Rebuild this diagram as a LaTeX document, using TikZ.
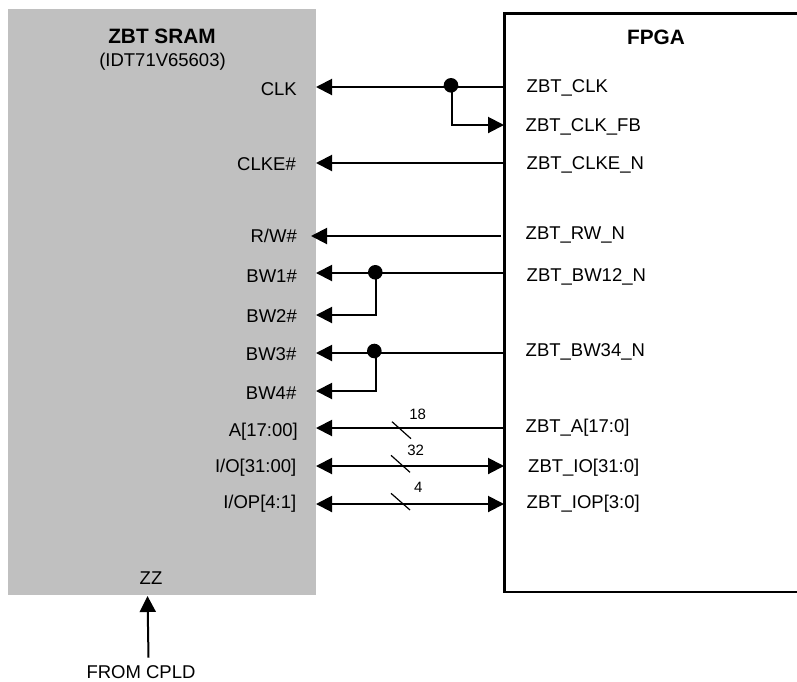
\documentclass[tikz,border=0pt]{standalone}
\usepackage{fontspec}
\setmainfont{Liberation Sans}
\usetikzlibrary{arrows.meta}
\definecolor{sramgray}{RGB}{192,192,192}
\tikzset{
  x=1pt,y=-1pt,
  lbl/.style={inner sep=0pt,font=\fontsize{18.5}{20}\selectfont},
  pinL/.style={lbl,anchor=base east},
  pinR/.style={lbl,anchor=base west},
  ttl/.style={inner sep=0pt,anchor=base,font=\fontsize{20.8}{22}\selectfont\bfseries},
  ctr/.style={lbl,anchor=base},
  bit/.style={anchor=center,inner sep=0pt,font=\fontsize{15}{17}\selectfont},
  sig/.style={line width=2pt,draw=black},
  tip/.style={-{Triangle[length=16pt,width=16pt,fill=black]}},
  tips/.style={{Triangle[length=16pt,width=16pt,fill=black]}-{Triangle[length=16pt,width=16pt,fill=black]}},
  dotn/.style={circle,fill=black,inner sep=0pt,minimum size=14.6pt},
  slash/.style={line width=1.2pt},
}
\begin{document}
\begin{tikzpicture}
\useasboundingbox (0,0) rectangle (797,681);
\clip (0,0) rectangle (797,681);
\fill[sramgray] (8,9) rectangle (316,595);
\draw[line width=2.7pt] (810,13.5) -- (504.7,13.5) -- (504.7,592) -- (810,592);
\node[ttl] (sramt) at (162,43.3) {ZBT SRAM};
\node[ctr] (sramp) at (162.5,66) {(IDT71V65603)};
\node[ttl] (fpgat) at (656,44) {FPGA};
% left labels
\node[pinL] (lclk) at (297,95) {CLK};
\node[pinL] (lclke) at (296,170) {CLKE\#};
\node[pinL] (lrw) at (297,242) {R/W\#};
\node[pinL] (lbw1) at (297,282.7) {BW1\#};
\node[pinL] (lbw2) at (297,322.7) {BW2\#};
\node[pinL] (lbw3) at (296.5,360) {BW3\#};
\node[pinL] (lbw4) at (296.5,399) {BW4\#};
\node[pinL] (la) at (298,436.7) {A[17:00]};
\node[pinL] (lio) at (296.5,472.5) {I/O[31:00]};
\node[pinL] (liop) at (296.5,508.5) {I/OP[4:1]};
\node[ctr] (zz) at (151,584) {ZZ};
\node[ctr] (cpld) at (141,678.5) {FROM CPLD};
% right labels
\node[pinR] (rclk) at (526.5,92.3) {ZBT\_CLK};
\node[pinR] (rfb) at (525.5,131) {ZBT\_CLK\_FB};
\node[pinR] (rclke) at (526.5,169.7) {ZBT\_CLKE\_N};
\node[pinR] (rrw) at (525.5,239) {ZBT\_RW\_N};
\node[pinR] (rb12) at (526.5,281) {ZBT\_BW12\_N};
\node[pinR] (rb34) at (525.5,356.7) {ZBT\_BW34\_N};
\node[pinR] (ra) at (525.5,432.7) {ZBT\_A[17:0]};
\node[pinR] (rio) at (528,472.7) {ZBT\_IO[31:0]};
\node[pinR] (riop) at (526.5,508.5) {ZBT\_IOP[3:0]};
% anchor points
\foreach \n/\xx/\yy in {
 pclkL/316/87,pclkR/504/87,pfbR/504/125,pcleL/316/163,pcleR/506/163,
 prwL/311/236,prwR/500.7/236,pb1L/316/273,pb1R/504/273,pb2L/316/315,
 pb3L/316/353,pb3R/504/353,pb4L/316/391,paL/316/428,paR/504/428,
 pioL/316/466,pioR/504/466,pipL/316/504,pipR/504/504,pzzT/147.5/596,pzzB/148.5/657.7,
 fbc/452/125,fbt/452/86,b2c/376/315,b1t/376/273,b4c/376/391,b3t/376/352,
 s1a/392/421.7,s1b/411/438.7,s2a/391/455.3,s2b/410/472.3,s3a/391/493.3,s3b/410/510}
 {\coordinate (\n) at (\xx,\yy);}
\node[dotn] (d1) at (451,85.3) {};
\node[dotn] (d2) at (375.3,272.3) {};
\node[dotn] (d3) at (374.3,351) {};
% connectors
\draw[sig,tip] (pclkR) -- (pclkL);
\draw[sig,tip] (fbt) -- (fbc) -- (pfbR);
\draw[sig,tip] (pcleR) -- (pcleL);
\draw[sig,tip] (prwR) -- (prwL);
\draw[sig,tip] (pb1R) -- (pb1L);
\draw[sig,tip] (b1t) -- (b2c) -- (pb2L);
\draw[sig,tip] (pb3R) -- (pb3L);
\draw[sig,tip] (b3t) -- (b4c) -- (pb4L);
\draw[sig,tip] (paR) -- (paL);
\draw[sig,tips] (pioL) -- (pioR);
\draw[sig,tips] (pipL) -- (pipR);
\draw[sig,tip] (pzzB) -- (pzzT);
% bus slashes
\draw[slash] (s1a) -- (s1b);
\draw[slash] (s2a) -- (s2b);
\draw[slash] (s3a) -- (s3b);
\node[bit] (n18) at (417.7,414.3) {18};
\node[bit] (n32) at (415.7,450.3) {32};
\node[bit] (n4) at (418.3,487.3) {4};
\end{tikzpicture}
\end{document}
